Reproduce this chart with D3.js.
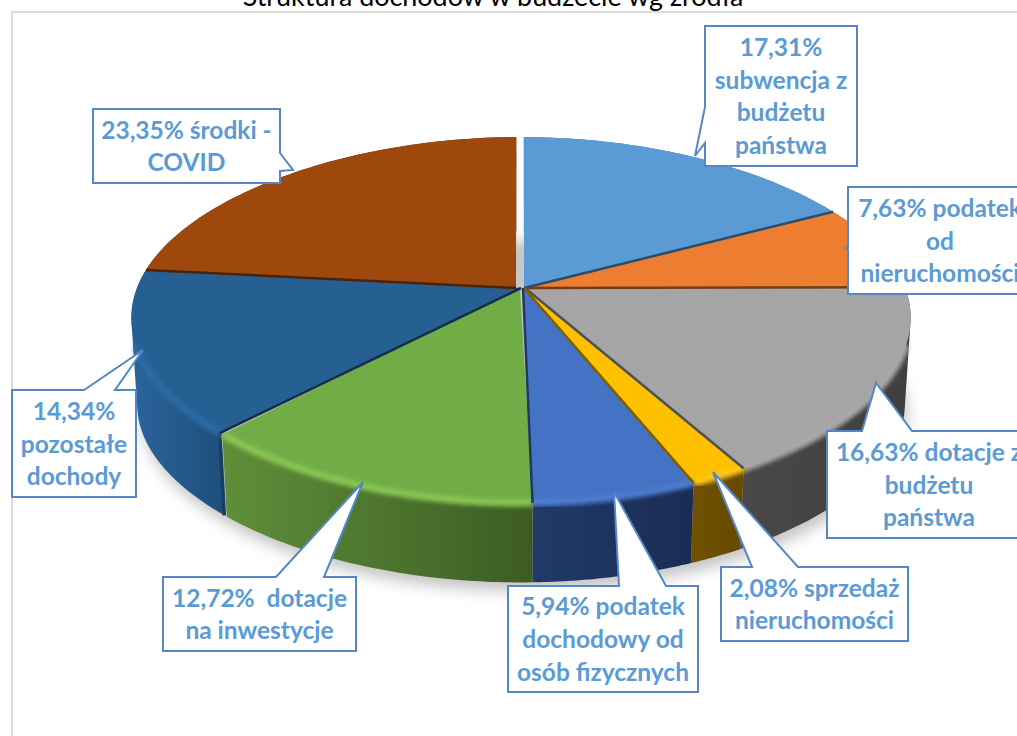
<!DOCTYPE html>
<html>
<head>
<meta charset="utf-8">
<script src="https://cdn.jsdelivr.net/npm/d3@7/dist/d3.min.js"></script>
<style>
  html, body { margin: 0; padding: 0; background: #fff; overflow: hidden; }
  svg { display: block; }
  text { font-family: Lato, "Open Sans", sans-serif; }
</style>
</head>
<body>
<svg id="Viz" width="1017" height="736"></svg>
<script>
var title = "Struktura dochodów w budżecie wg źródła";

var categories = ["subwencja z budżetu państwa", "podatek od nieruchomości", "dotacje z budżetu państwa",
  "sprzedaż nieruchomości", "podatek dochodowy od osób fizycznych", "dotacje na inwestycje",
  "pozostałe dochody", "środki - COVID"];
var values = [17.31, 7.63, 16.63, 2.08, 5.94, 12.72, 14.34, 23.35];
var labelLines = [
  ["17,31%", "subwencja z", "budżetu", "państwa"],
  ["7,63% podatek", "od", "nieruchomości"],
  ["16,63% dotacje z", "budżetu", "państwa"],
  ["2,08% sprzedaż", "nieruchomości"],
  ["5,94% podatek", "dochodowy od", "osób fizycznych"],
  ["12,72%  dotacje", "na inwestycje"],
  ["14,34%", "pozostałe", "dochody"],
  ["23,35% środki -", "COVID"]
];

var fills = ["#5b9bd5", "#ed7d31", "#a5a5a5", "#ffc000", "#4472c4", "#70ad47", "#265f92", "#9e480e"];
var sideLeft = ["#4a80b0", "#b05c20", "#484848", "#6f5200", "#213a68", "#5f8f39", "#2a659c", "#6e3209"];
var sideRight = ["#3a6a95", "#8f4a1a", "#3f3f3f", "#644a00", "#1a2c54", "#3c5c24", "#1f4f7c", "#6e3209"];
var rimGlow = ["#5b9bd5", "#ed7d31", "#a8a8a8", "#ffc61a", "#4d7dd0", "#8ac653", "#2b6ca6", "#9e480e"];

// where each slice has its point, and the small gaps cut from the rim (radians)
var apexShift = [3, 3, 4, 3, 2, -1, 0, -5];
var trimStart = [0.009, 0, 0, 0, 0, 0, 0, 0];
var trimEnd = [0, 0, 0, 0, 0, 0.009, 0, 0.015];

// callout boxes: [left, top, right, bottom], then the outline of the tail
var boxes = [
  [705, 26, 857, 166], [848, 187, 1032, 294], [827, 431, 1031, 538], [721, 567, 908, 641],
  [508, 586, 698, 692], [163, 577, 356, 651], [12, 390, 136, 497], [93, 109, 280, 183]
];
var tails = [
  [[705, 107], [695, 156], [705, 143]],
  [[848, 247], [846, 248], [848, 249]],
  [[862, 431], [876, 383], [912, 431]],
  [[752, 567], [713, 472], [798, 567]],
  [[619, 586], [614, 492], [666, 586]],
  [[276, 577], [363, 482], [324, 577]],
  [[84, 390], [143, 350], [115, 390]],
  [[280, 153], [293, 170], [280, 171]]
];

var svg = d3.select("#Viz"),
    width = +svg.attr("width"),
    height = +svg.attr("height");

// the disc is seen in perspective, so the apex is not at the middle of the ellipse
var cx = 521, cy = 288, radius = 384, flat = 177.4, persp = 0.175, depth = 88, pinch = 0.035;

function project(angle, level) {
  var u = Math.sin(angle), v = -Math.cos(angle), s = 1 / (1 - persp * v);
  var w = radius * u * s * (1 - pinch * v * v);
  if (level == 0) return [cx + w, cy + flat * v * s];
  return [cx + w * 0.985, cy + depth + flat * 0.96 * v * s];
}

function rimAngles(d, i) {
  var a0 = d.startAngle + trimStart[i], a1 = d.endAngle - trimEnd[i];
  return d3.range(0, 61).map(function(k) { return a0 + (a1 - a0) * k / 60; });
}

function rim(d, i, level) {
  return rimAngles(d, i).map(function(a) { return project(a, level); });
}

function apex(i) { return [cx + apexShift[i], cy]; }

var pie = d3.pie().sort(null).value(function(d) { return d; });
var arcs = pie(values);
var line = d3.line();

var defs = svg.append("defs");
[["blurShadow", 7], ["blurRim", 2.2]].forEach(function(f) {
  defs.append("filter").attr("id", f[0])
      .attr("x", "-20%").attr("y", "-20%").attr("width", "140%").attr("height", "140%")
    .append("feGaussianBlur").attr("stdDeviation", f[1]);
});

arcs.forEach(function(d, i) {
  var xs = d3.extent(rim(d, i, 0), function(p) { return p[0]; });
  var g = defs.append("linearGradient").attr("id", "side" + i)
      .attr("gradientUnits", "userSpaceOnUse")
      .attr("x1", xs[0]).attr("x2", xs[1]).attr("y1", 0).attr("y2", 0);
  g.append("stop").attr("offset", "0%").attr("stop-color", sideLeft[i]);
  g.append("stop").attr("offset", "100%").attr("stop-color", sideRight[i]);
});

// frame of the chart area
svg.append("path")
    .attr("d", "M12,736V12H1017")
    .attr("fill", "none").attr("stroke", "#dcdcdc").attr("stroke-width", 2);

svg.append("text")
    .attr("x", 493).attr("y", 6)
    .attr("text-anchor", "middle")
    .attr("font-size", 26.9)
    .attr("fill", "#000")
    .text(title);

// soft shadow under the pie
svg.append("path")
    .attr("d", line(d3.range(0, 121).map(function(i) {
      var p = project(i / 120 * 2 * Math.PI, 1);
      return [p[0] + 3, p[1] + 9];
    })))
    .attr("fill", "#c6c6c6").attr("filter", "url(#blurShadow)");

// outer walls, the hull also fills the silhouette at the far left and right
svg.append("g").selectAll("path").data(arcs).enter().append("path")
    .attr("d", function(d, i) {
      return line(d3.polygonHull(rim(d, i, 0).concat(rim(d, i, 1)))) + "Z";
    })
    .attr("fill", function(d, i) { return "url(#side" + i + ")"; });

// wall edge of the dark blue slice next to the green one
svg.append("path")
    .datum(arcs[6])
    .attr("d", function(d) { return line([project(d.startAngle, 0), project(d.startAngle, 1)]); })
    .attr("fill", "none")
    .attr("stroke", "#173d60")
    .attr("stroke-width", 3.5);

// top faces
svg.append("g").selectAll("path").data(arcs).enter().append("path")
    .attr("d", function(d, i) { return line([apex(i)].concat(rim(d, i, 0))) + "Z"; })
    .attr("fill", function(d, i) { return fills[i]; });

// bevel along the front of the rim
svg.append("g").selectAll("path").data(arcs).enter().append("path")
    .attr("d", function(d, i) {
      var pts = rimAngles(d, i)
        .filter(function(a) { return -Math.cos(a) > 0.3; })
        .map(function(a) { return project(a, 0); });
      return pts.length > 1 ? line(pts) : null;
    })
    .attr("fill", "none")
    .attr("stroke", function(d, i) { return rimGlow[i]; })
    .attr("stroke-width", 7)
    .attr("filter", "url(#blurRim)");

// dark seams where a slice wall shows between the faces
svg.append("g").selectAll("path").data(arcs).enter().append("path")
    .attr("d", function(d, i) {
      if (i == 5) return null;
      var a = i < 5 ? d.endAngle : d.startAngle;
      return line([apex(i), project(a, 0)]);
    })
    .attr("fill", "none")
    .attr("stroke", function(d, i) { return d3.color(fills[i]).darker(2); })
    .attr("stroke-width", 2.5);

// callouts
var callouts = svg.selectAll(".callout").data(labelLines).enter().append("g")
    .attr("class", "callout");

callouts.append("path")
    .attr("d", function(d, i) {
      var b = boxes[i], t = tails[i];
      var outline;
      if (t[0][1] == b[1]) {
        // tail on the top edge
        outline = [[b[0], b[1]]].concat(t, [[b[2], b[1]], [b[2], b[3]], [b[0], b[3]]]);
      } else if (t[0][0] == b[0]) {
        // tail on the left edge
        outline = [[b[0], b[1]], [b[2], b[1]], [b[2], b[3]], [b[0], b[3]]].concat(t.slice().reverse());
      } else {
        // tail on the right edge
        outline = [[b[0], b[1]], [b[2], b[1]]].concat(t, [[b[2], b[3]], [b[0], b[3]]]);
      }
      return line(outline) + "Z";
    })
    .attr("fill", "#fff")
    .attr("stroke", "#5487c4")
    .attr("stroke-width", 2);

callouts.each(function(d, i) {
  var b = boxes[i];
  var mid = (b[0] + b[2]) / 2, top = (b[1] + b[3]) / 2 - (d.length - 1) * 32.8 / 2;
  d3.select(this).selectAll("text").data(d).enter().append("text")
      .attr("x", mid)
      .attr("y", function(t, j) { return top + j * 32.8 + 9; })
      .attr("text-anchor", "middle")
      .attr("font-size", 24.5)
      .attr("font-weight", 700)
      .attr("fill", "#5b9bd5")
      .style("white-space", "pre")
      .text(function(t) { return t; });
});
</script>
</body>
</html>
